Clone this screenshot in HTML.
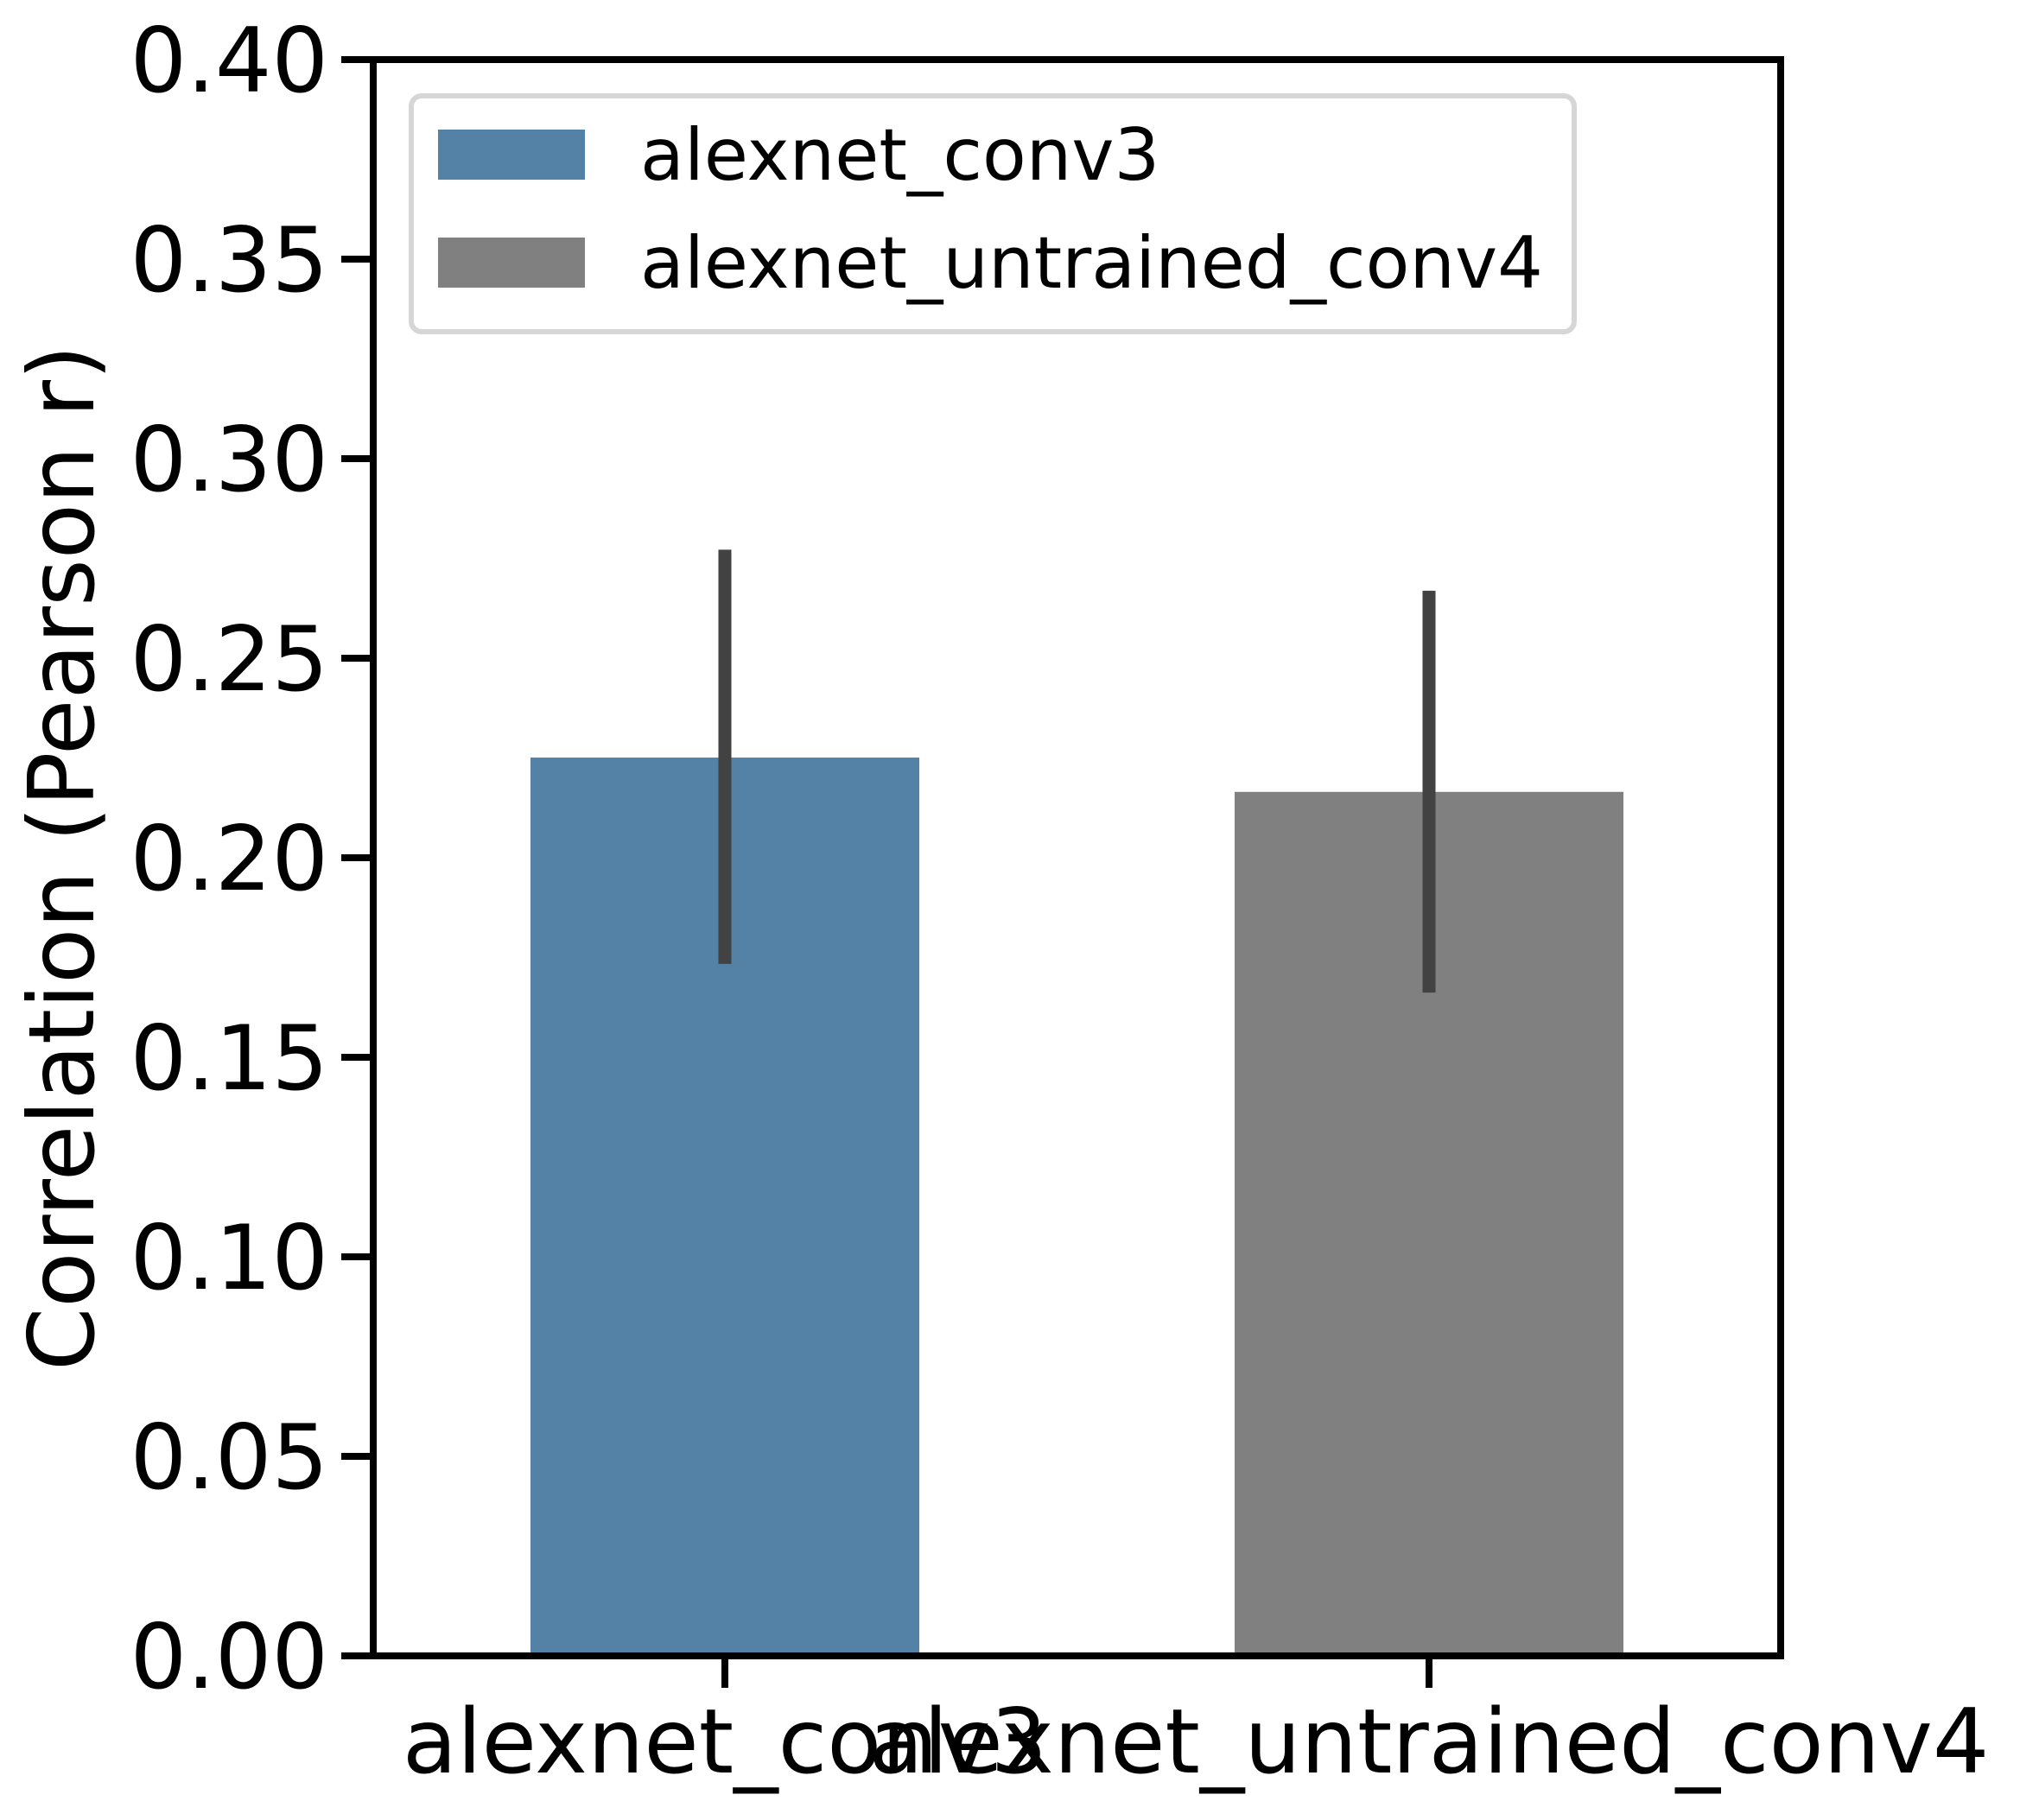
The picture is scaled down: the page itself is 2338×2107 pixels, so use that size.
<!DOCTYPE html>
<html><head><meta charset="utf-8"><style>
html,body{margin:0;padding:0;background:#fff;}
svg text{font-family:"DejaVu Sans","Liberation Sans",sans-serif;fill:#000;}
</style></head><body>
<svg id="chart" width="2338" height="2102" viewBox="0 0 2338 2102" xmlns="http://www.w3.org/2000/svg">
<rect x="0" y="0" width="2338" height="2102" fill="#fff"/>
<g id="bars"></g>
<g id="errs"></g>
<g id="yticks"></g>
<g id="xticks"></g>
<rect x="432" y="69" width="1629" height="1848" fill="none" stroke="#000" stroke-width="8"/>
<text transform="translate(108,993) rotate(-90)" text-anchor="middle" font-size="105">Correlation (Pearson r)</text>
<g>
<rect x="476" y="111" width="1346" height="273" rx="12" fill="#fff" stroke="#d6d6d6" stroke-width="6"/>
<g>
<rect x="507" y="150" width="170" height="58" fill="#5482a6"/>
<text x="741" y="208" font-size="83">alexnet_conv3</text>
</g>
<g>
<rect x="507" y="275" width="170" height="58" fill="#808080"/>
<text x="741" y="333" font-size="83">alexnet_untrained_conv4</text>
</g>
</g>
</svg>
<script>
const categories = ["alexnet_conv3", "alexnet_untrained_conv4"];
const values = [0.2251, 0.2165];
const errLow = [0.1734, 0.1662];
const errHigh = [0.2772, 0.2669];
const yTicks = [0, 0.05, 0.10, 0.15, 0.20, 0.25, 0.30, 0.35, 0.40];
const yTickLabels = ["0.00","0.05","0.10","0.15","0.20","0.25","0.30","0.35","0.40"];
const colors = ["#5482a6", "#808080"];

const NS = "http://www.w3.org/2000/svg";
const X0 = 432, X1 = 2061, Y0 = 1917, Y1 = 69;
function yScale(v){ return Y0 - (v - 0) / (0.4 - 0) * (Y0 - Y1); }
function xCenter(i){ return X0 + 407 + i * 815; }
const barW = 450;
function mk(tag, attrs){ const e = document.createElementNS(NS, tag); for (const k in attrs) e.setAttribute(k, attrs[k]); return e; }

const bars = document.getElementById('bars');
const errs = document.getElementById('errs');
const xt = document.getElementById('xticks');
const yt = document.getElementById('yticks');

categories.forEach((c, i) => {
  const cx = xCenter(i);
  const top = yScale(values[i]);
  const r = mk('rect', {x: cx - barW/2, y: top, width: barW, height: Y0 - top, fill: colors[i]});
  
  
  bars.appendChild(r);
  const l = mk('line', {x1: cx, x2: cx, y1: yScale(errHigh[i]), y2: yScale(errLow[i]), stroke: '#424242', 'stroke-width': 15});
  
  
  errs.appendChild(l);
  const t = mk('line', {x1: cx, x2: cx, y1: Y0, y2: Y0 + 37, stroke: '#000', 'stroke-width': 8});
  
  
  xt.appendChild(t);
  const lb = mk('text', {x: cx, y: 2052, 'text-anchor': 'middle', 'font-size': 103});
  lb.textContent = c;
  
  
  xt.appendChild(lb);
});

yTicks.forEach((v, i) => {
  const y = yScale(v);
  const t = mk('line', {x1: X0 - 37, x2: X0, y1: y, y2: y, stroke: '#000', 'stroke-width': 8});
  
  
  yt.appendChild(t);
  const lb = mk('text', {x: 380, y: y + 37, 'text-anchor': 'end', 'font-size': 103});
  lb.textContent = yTickLabels[i];
  
  
  yt.appendChild(lb);
});
</script>
</body></html>
